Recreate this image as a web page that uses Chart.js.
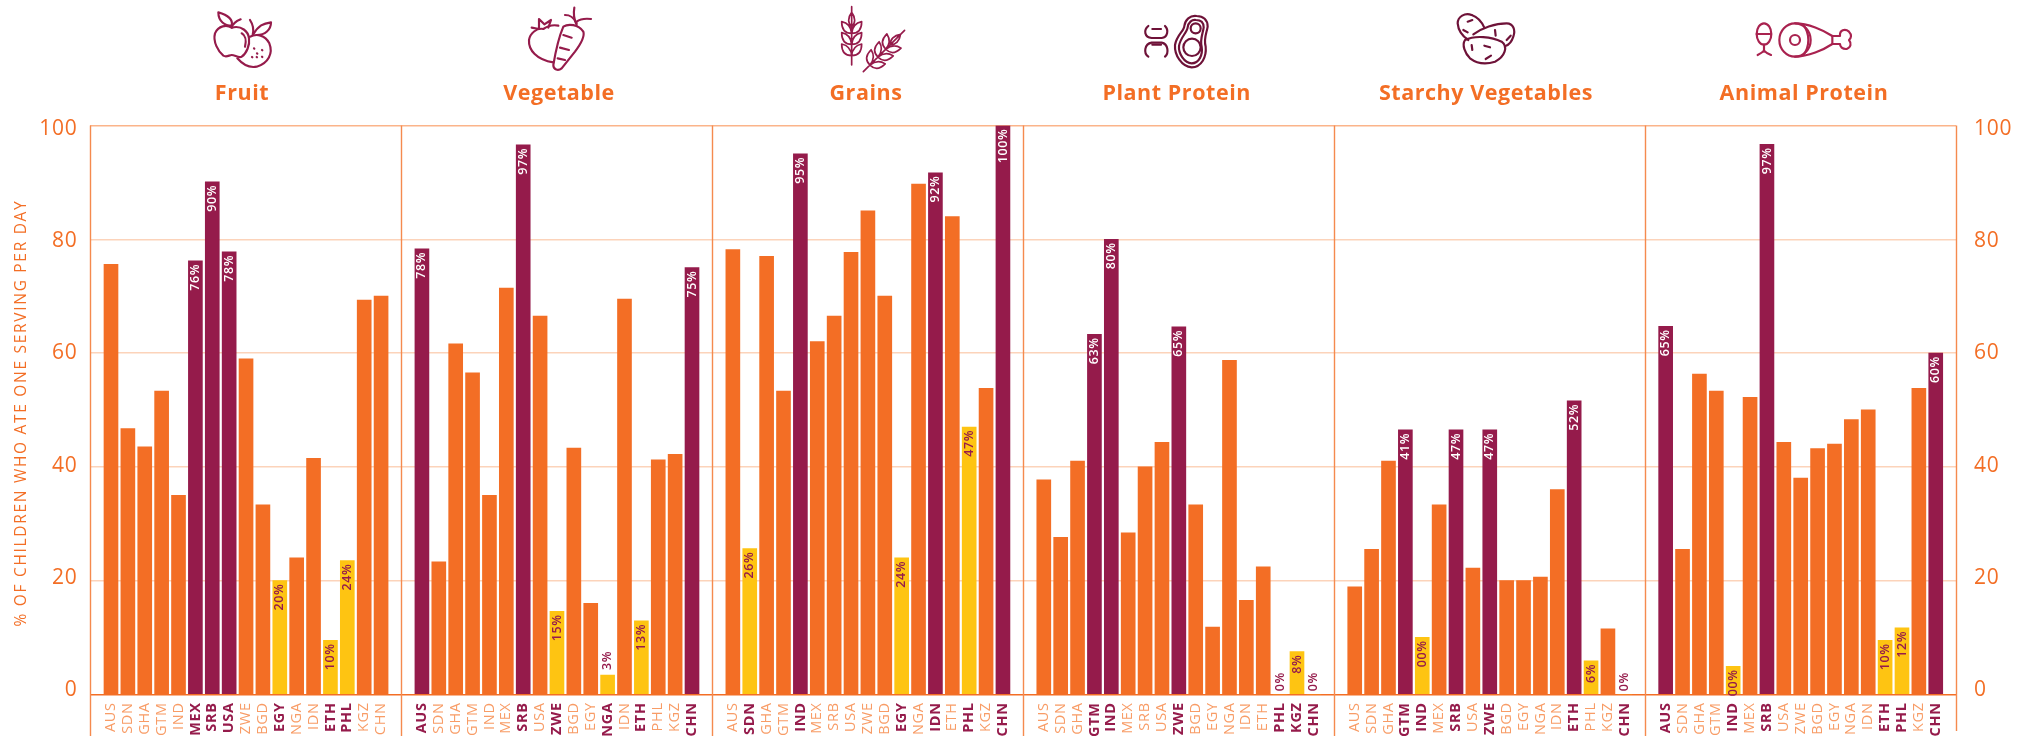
<!DOCTYPE html>
<html><head><meta charset="utf-8">
<style>html,body{margin:0;padding:0;background:#fff}#w{width:2025px;height:736px;position:relative}</style>
<script src="https://cdn.jsdelivr.net/npm/chart.js@4"></script>
</head><body><div id="w"><canvas id="c" width="2025" height="736"></canvas></div>
<script>
const categories=['AUS','SDN','GHA','GTM','IND','MEX','SRB','USA','ZWE','BGD','EGY','NGA','IDN','ETH','PHL','KGZ','CHN'];
const panelNames=['Fruit','Vegetable','Grains','Plant Protein','Starchy Vegetables','Animal Protein'];
const yTicks=[0,20,40,60,80,100];
const fruit=[75.6,46.7,43.5,53.3,35,76.2,90.1,77.8,59,33.3,20,24,41.5,9.5,23.5,69.3,70];
const vegetable=[78.3,23.3,61.6,56.5,35,71.4,96.6,66.5,14.6,43.3,16,3.4,69.5,12.9,41.2,42.2,75];
const grains=[78.2,25.6,77,53.3,95,62,66.5,77.7,85,70,24,89.7,91.7,84,47,53.8,100];
const plantProtein=[37.7,27.6,41,63.3,80,28.4,40,44.3,64.6,33.3,11.8,58.7,16.5,22.4,0,7.5,0];
const starchy=[18.9,25.5,41,46.5,10,33.3,46.5,22.2,46.5,20,20,20.6,36,51.6,5.9,11.5,0];
const animalProtein=[64.7,25.5,56.3,53.3,4.9,52.2,96.7,44.3,38,43.2,44,48.3,50,9.5,11.7,53.8,60];
const seriesValues=[fruit,vegetable,grains,plantProtein,starchy,animalProtein];
const highBars=[['MEX','SRB','USA'],['AUS','SRB','CHN'],['IND','IDN','CHN'],['GTM','IND','ZWE'],['GTM','SRB','ZWE','ETH'],['AUS','SRB','CHN']];
const lowBars=[['EGY','ETH','PHL'],['ZWE','NGA','ETH'],['SDN','EGY','PHL'],['PHL','KGZ','CHN'],['IND','PHL','CHN'],['IND','ETH','PHL']];
const plainTicks=[[],[],[],[],['PHL'],[]];
const labelOverrides=[{},{},{},{},{IND:'00%',GTM:'41%'},{IND:'00%'}];

const ORANGE='#F36E25',MAROON='#951B4B',YELLOW='#FEC412',TICK='#F89C66';
const SLOTS=18.42,PAD=1.22;
const xOf=(p,i)=>p*SLOTS+i;
const allTicks=[];seriesValues.forEach((s,p)=>s.forEach((v,i)=>allTicks.push({p,i,value:xOf(p,i)})));
const UI='"Open Sans"';
const tickAt=k=>allTicks[k]||allTicks[0];
const isBoldTick=t=>{const n=categories[t.i];return (highBars[t.p].includes(n)||lowBars[t.p].includes(n))&&!plainTicks[t.p].includes(n);};
const noPad=s=>{s.paddingLeft=0;s.paddingRight=0;s.paddingTop=0;s.paddingBottom=0;};

const iconStroke={
 fruit:['M95 68C80 58 55 62 45 85C38 110 55 140 70 152C80 158 88 150 95 150C105 150 115 160 125 155C140 145 150 120 147 100C145 80 125 60 95 68Z','M125 85C135 90 140 105 135 125','M95 68C97 60 105 50 122 43','M55 22C85 30 100 45 95 62C75 62 55 50 55 22Z','M150 95C170 85 195 90 208 115C220 145 205 175 170 185C145 190 125 175 112 160','M160 88C175 62 190 55 213 52C213 75 195 90 170 90','M150 45C160 60 162 75 158 90','M186 135L187 136','M171 145L172 146','M156 156L157 157','M170 156L171 157','M186 155L187 156','M162 130L163 131'],
 veg:['M130 62C110 58 95 65 85 72C65 68 45 85 42 105C40 135 65 165 115 172','M50 68L72 72L72 42L88 58L108 45L100 68','M145 65C160 55 190 58 205 80C210 95 195 120 180 140L140 190C130 198 115 195 115 180C120 150 130 100 145 65Z','M145 90L170 98','M135 128L162 135','M128 160L150 165','M185 60C175 40 175 25 178 8','M150 30C165 30 175 35 185 55','M185 50C195 42 210 40 228 42'],
 plant:['M40 48C25 60 28 82 50 84L80 84C98 82 102 60 90 48','M52 57L78 57','M40 140C25 130 28 102 50 98L80 98C100 102 102 130 90 140','M52 104L78 104','M185 18C165 15 150 30 148 48C148 62 125 75 120 105C118 135 140 170 170 172C200 172 215 140 212 110C205 85 215 70 218 50C218 30 205 18 185 18Z','M183 30C170 28 160 38 158 52C156 68 136 82 132 108C130 130 148 160 170 160C192 160 204 135 200 110C194 88 204 70 206 52C206 38 197 30 183 30Z','M197 55A15 15 0 1 1 167 55A15 15 0 1 1 197 55Z','M197 112A26 26 0 1 1 145 112A26 26 0 1 1 197 112Z'],
 starchy:['M80 30C60 22 38 35 38 55C40 80 55 95 70 105','M80 30C95 35 110 50 118 68','M85 88C110 70 150 55 185 55C205 55 212 75 205 95C200 110 190 120 183 122','M60 105C90 90 140 95 170 110C190 125 180 155 150 170C120 180 95 175 75 160C60 145 50 120 60 105Z','M68 50L82 45','M55 75L68 82','M150 75L152 92','M185 105L197 92','M80 120L82 135','M118 122L135 127','M122 162L138 152'],
 animal:['M79 72C79 90 69 104 57 104C45 104 35 90 35 72C35 54 45 40 57 40C69 40 79 54 79 72Z','M35 72L78 72','M57 104L57 125','M38 135C48 130 52 128 57 122C62 128 66 130 78 135','M197 90A47 50 0 1 1 103 90A47 50 0 1 1 197 90Z','M165 90A15 15 0 1 1 135 90A15 15 0 1 1 165 90Z','M150 40C190 40 235 60 262 78L285 78C283 60 300 55 312 65C322 75 318 85 312 90C320 100 318 112 305 117C292 118 285 110 285 102L262 102C235 120 190 140 150 140','M175 45C195 70 195 110 175 135','M262 78L262 102']
};
const iconPlace=[['fruit',200,5,MAROON],['veg',515,5,MAROON],['plant',1135,10,'#6E1238'],['starchy',1445,5,'#6E1238'],['animal',1745,10,'#A9224F']];
const kernel=y=>`M0 ${y}C-20 ${y} -30 ${y-12} -30 ${y-35}C-15 ${y-32} -2 ${y-20} 0 ${y}M0 ${y}C20 ${y} 30 ${y-12} 30 ${y-35}C15 ${y-32} 2 ${y-20} 0 ${y}`;
const stalk=new Path2D('M0 0L0 -175M0 -158C-12 -142 -12 -125 0 -115C12 -125 12 -142 0 -158'+kernel(-95)+kernel(-62)+kernel(-28));
const titleX=[242,559,866,1176.7,1486,1804];

const decor={id:'decor',
 beforeDraw(ch){ch.ctx.letterSpacing='0.7px';},
 beforeDatasetsDraw(ch){
  const {ctx,scales:{x},chartArea:a}=ch;
  ctx.save();ctx.strokeStyle='#F58A4E';ctx.lineWidth=1.4;
  for(let p=1;p<6;p++){const px=Math.round(x.getPixelForValue(p*SLOTS-PAD))+.5;ctx.beginPath();ctx.moveTo(px,a.top);ctx.lineTo(px,736);ctx.stroke();}
  const l=x.getPixelForValue(-PAD),r=x.getPixelForValue(6*SLOTS-PAD);
  ctx.beginPath();ctx.moveTo(Math.round(l)+.5,a.top);ctx.lineTo(Math.round(l)+.5,736);ctx.moveTo(Math.round(r)+.5,a.top);ctx.lineTo(Math.round(r)+.5,731);ctx.stroke();
  ctx.restore();
 },
 afterDatasetsDraw(ch){
  const ctx=ch.ctx;ctx.save();
  ctx.letterSpacing='0.6px';ctx.font='600 12.5px '+UI;ctx.textBaseline='middle';
  seriesValues.forEach((s,p)=>{
   const els=ch.getDatasetMeta(p).data;
   s.forEach((v,i)=>{
    const c=categories[i],hi=highBars[p].includes(c),lo=lowBars[p].includes(c);
    if(!hi&&!lo)return;
    const txt=labelOverrides[p][c]||Math.round(v)+'%';
    const el=els[i];const small=v<4;
    ctx.save();ctx.translate(el.x,small?(el.y-(v>0?5:3)):el.y+3);ctx.rotate(-Math.PI/2);
    ctx.textAlign=small?'left':'right';ctx.fillStyle=hi?'#fff':MAROON;ctx.fillText(txt,0,0);ctx.restore();
   });
  });
  ctx.letterSpacing='0.55px';ctx.font='700 21.5px '+UI;ctx.fillStyle=ORANGE;ctx.textAlign='center';ctx.textBaseline='middle';
  panelNames.forEach((n,k)=>ctx.fillText(n,titleX[k],93.5));
  ctx.save();ctx.translate(22,413);ctx.rotate(-Math.PI/2);ctx.letterSpacing='1.7px';ctx.font='400 15.5px '+UI;ctx.fillText('% OF CHILDREN WHO ATE ONE SERVING PER DAY',0,0);ctx.restore();
  ctx.lineWidth=6.5;ctx.lineCap='round';ctx.lineJoin='round';
  iconPlace.forEach(([k,ox,oy,col])=>{ctx.save();ctx.translate(ox,oy);ctx.scale(1/3,1/3);ctx.strokeStyle=col;iconStroke[k].forEach(d=>ctx.stroke(new Path2D(d)));ctx.restore();});
  ctx.strokeStyle=MAROON;ctx.lineWidth=5;
  ctx.save();ctx.translate(830,5);ctx.scale(1/3,1/3);
  ctx.save();ctx.translate(65,180);ctx.stroke(stalk);ctx.restore();
  ctx.save();ctx.translate(100,200);ctx.rotate(Math.PI/4);ctx.stroke(stalk);ctx.restore();
  ctx.restore();
  ctx.restore();
 }
};

const labelAxis=(position,width,padding)=>({
 type:'linear',position,min:-0.77,max:100.6,
 grid:{display:false},border:{display:false},
 afterBuildTicks:s=>{s.ticks=yTicks.map(value=>({value}));},
 afterFit:s=>{s.width=width;noPad(s);},
 ticks:{color:ORANGE,font:{family:UI,size:21,weight:'400'},padding}
});

new Chart(document.getElementById('c'),{
 type:'bar',
 data:{datasets:seriesValues.map((s,p)=>({
  label:panelNames[p],
  data:s.map((v,i)=>({x:xOf(p,i),y:v})),
  grouped:false,barThickness:14,
  backgroundColor:s.map((v,i)=>highBars[p].includes(categories[i])?MAROON:lowBars[p].includes(categories[i])?YELLOW:ORANGE)
 }))},
 plugins:[decor],
 options:{
  responsive:false,animation:false,
  layout:{padding:{top:125.5,left:0,right:0,bottom:0}},
  plugins:{legend:{display:false},tooltip:{enabled:false},title:{display:false}},
  scales:{
   x:{type:'linear',position:'bottom',min:-PAD,max:6*SLOTS-PAD,offset:false,
    grid:{display:false,drawTicks:false,offset:false},border:{display:false},
    afterBuildTicks:s=>{s.ticks=allTicks.map(t=>({value:t.value}));},
    afterFit:s=>{s.height=41.7;noPad(s);},
    ticks:{autoSkip:false,minRotation:90,maxRotation:90,padding:8,
     callback:(v,i)=>categories[tickAt(i).i],
     color:c=>isBoldTick(tickAt(c.index))?MAROON:TICK,
     font:c=>({family:UI,size:14.5,weight:isBoldTick(tickAt(c.index))?'700':'400'})
    }},
   y:{type:'linear',position:'left',min:0,max:100,
    afterFit:s=>{s.width=0;noPad(s);},border:{display:false},
    ticks:{display:false,stepSize:20},
    grid:{drawTicks:false,lineWidth:1.4,color:c=>c.tick&&c.tick.value===0?ORANGE:c.tick&&c.tick.value===100?'#FBB48A':'#FCD3BA'}},
   yL:labelAxis('left',90.4,5),
   yR:labelAxis('right',69,10)
  }
 }
});
</script></body></html>
